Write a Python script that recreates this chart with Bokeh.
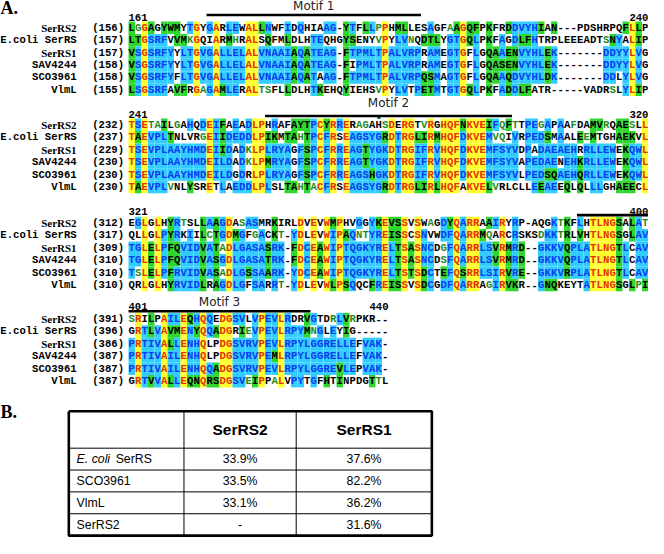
from collections import Counter
from bokeh.plotting import figure
from bokeh.models import ColumnDataSource, Range1d
from bokeh.core.properties import value
from bokeh.embed import file_html
from bokeh.resources import INLINE

# ---------------- data ----------------
names = ["SerRS2", "E.coli SerRS", "SerRS1", "SAV4244", "SCO3961", "VlmL"]
block_first = [161, 241, 321, 401]
block_last = [240, 320, 400, 440]
start_pos = [
    [156, 157, 157, 158, 158, 155],
    [232, 237, 229, 230, 230, 230],
    [312, 317, 309, 310, 310, 310],
    [391, 396, 386, 387, 387, 387],
]
block1 = [
    "LGGAGYWMYTGYGARLEWALLNWFIDQHIAAG-YTFLLPPHMLLESAGFAAGQFPKFRDDVYHIAN---PDSHRPQFLLP",
    "LTGSRFVVMKGQIARMHRALSQFMLDLHTEQHGYSENYVPYLVNQDTLYGTGQLPKFAGDLFHTRPLEEEADTSNYALIP",
    "VSGSRFYYLTGVGALLELALVNAAIAQATEAG-FTPMLTPALVRPRAMEGTGFLGQAAENVYHLEK-------DDYYLVG",
    "VSGSRFYYLTGVGALLELALVNAAIAQATEAG-FIPMLTPALVRPRAMEGTGFLGQASENVYHLEK-------DDYYLVG",
    "VSGSRFYFLTGVGALLELALVNAAIAQATAAG-FTPMLTPALVRPQSMAGTGFLGQAAQDVYHLDK-------DDLYLVG",
    "LSGSRFAVFRGAGAMLERALTSFLLDLHTKEHQYIEHSVPYLVTPETMTGTGQLPKFADDLFATR-----VADRSLYLIP",
]
block2 = [
    "TSETAILGAHQDEIFAEADLPHRAFAYTPCYRRERAGAHSDERGTVRGHQFNKVEIFQFTTPEGAPAAFDAMVRQAESLL",
    "TAEVPLTNLVRGEIIDEDDLPIKMTAHTPCFRSEAGSYGRDTRGLIRMHQFDKVEMVQIVRPEDSMAALEEMTGHAEKVL",
    "TSEVPLAAYHMDEIIDADKLPLRYAGFSPCFRREAGTYGKDTRGIFRVHQFDKVEMFSYVDPADAEAEHRRLLEWEKQWL",
    "TSEVPLAAYHMDEILDADKLPMRYAGFSPCFRREAGTYGKDTRGIFRVHQFDKVEMFSYVAPEDAENEHKRLLEWEKQWL",
    "TSEVPLAAYHMDEILDGDRLPLRYAGFSPCFRREAGSHGKDTRGIFRVHQFDKVEMFSYVLPEDSQAEHQRLLEWEKQWL",
    "TAEVPLVNLYSRETLAEDDLPLSLTAHTACFRSEAGSYGRDTRGLIRLHQFAKVELVRLCLLEEAEEQLQLLLGHAEECL",
]
block3 = [
    "EGLGLHYRTSLLAAGDASASMRKIRLDVEVWMPHVGGYKEVSSVSWAGDYQARRAAIRYRP-AQGKTKFLHTLNGSALAT",
    "QLLGLPYRKIILCTGDMGFGACKT-YDLEVWIPAQNTYREISSCSNVWDFQARRMQARCRSKSDKKTRLVHTLNGSGLAV",
    "TGLELPFQVIDVATADLGASASRK-FDCEAWIPTQGKYRELTSASNCDGFQARRLSVRMRD--GKKVQPLATLNGTLCAV",
    "TGLELPFQVIDVASGDLGASATRK-FDCEAWIPTQGKYRELTSASNCDSFQARRLSVRMRD--GKKVQPLATLNGTLCAV",
    "TSLELPFRVIDVASADLGSSAARK-YDCEAWIPTQGKYRELTSTSDCTEFQSRRLSIRVRE--GKKVRPLATLNGTLCAV",
    "QRLGLHYRVIDLRAGDLGFSARRT-YDLEVWLPSQQCFREISSVSDCGDFQARRAGIRVKR--GNQKEYTATLNGSGLPI",
]
block4 = [
    "SRILPAILEQHQQEDGSVLVPEVLRDRVGTDRLVRPKR--",
    "GRTLVAVMENYQQADGRIEVPEVLRPYMNGLEYIG-----",
    "PRTIVALLENHQLPDGSVRVPEVLRPYLGGRELLEFVAK-",
    "PRTIVAILENHQLPDGSVRVPEMLRPYLGGRELLEFVAK-",
    "PRTIVAILENHQQADGSVRVPEVLRPYLGGREVLEPVAK-",
    "GRTVVALLEQNQRSDGSVEIPPALVPYTGFHTINPDGTTL",
]
blocks = [block1, block2, block3, block4]
motif_labels = ["Motif 1", "Motif 2", "", "Motif 3"]
motif_cols = [(12, 45), (21, 59), (69, 80), (0, 28)]   # column spans of motif bars

table_cols = ["SerRS2", "SerRS1"]
table_rows = ["E. coli SerRS", "SCO3961", "VlmL", "SerRS2"]
ident_serrs2 = ["33.9%", "33.5%", "33.1%", "-"]
ident_serrs1 = ["37.6%", "82.2%", "36.2%", "31.6%"]

# ---------------- colouring rules (AlignX-like) ----------------
STRONG = ["STA", "NEQK", "NHQK", "NDEQ", "QHRK", "MILV", "MILF", "HY", "FYW"]
WEAK = ["CSA", "ATV", "SAG", "STNK", "STPA", "SGND", "SNDEQK", "NDEQHK", "NEQHRK", "FVLIM", "HFY"]
YEL, RED = "#ffff2e", "#e8300c"
CYAN, BLUE = "#33ccff", "#0a3cf0"
GRN, GTXT = "#2ed62e", "#1f8a1f"


def sim(a, b, groups):
    return any(a in g and b in g for g in groups)


def column_styles(res):
    letters = [r for r in res if r != "-"]
    if len(letters) == len(res) and len(set(letters)) == 1:
        return [(YEL, RED)] * len(res)
    cnt = Counter(letters).most_common()
    cons = None
    if cnt and cnt[0][1] >= 3 and (len(cnt) == 1 or cnt[1][1] < cnt[0][1]):
        cons = cnt[0][0]
    out = []
    if cons:
        for r in res:
            if r == "-":
                out.append((None, "black"))
            elif r == cons:
                out.append((CYAN, BLUE))
            elif sim(r, cons, STRONG):
                out.append((GRN, "black"))
            elif sim(r, cons, WEAK):
                out.append((None, GTXT))
            else:
                out.append((None, "black"))
    else:
        best, bn = None, 0
        for g in STRONG:
            n = sum(1 for r in letters if r in g)
            if n > bn:
                best, bn = g, n
        for r in res:
            if best and bn >= 3 and r in best:
                out.append((GRN, "black"))
            else:
                out.append((None, "black"))
    return out


# ---------------- geometry ----------------
X0, CW = 134.5, 6.66
ROW_H = 12.8
row0_y = [28, 128, 229, 328]
num_y = [17, 117, 217, 315]
bar_y = [15, 119, 221, 320]
label_y = [6, 106, None, 310]

p = figure(width=648, height=538, x_range=Range1d(0, 664), y_range=Range1d(554, 0),
           output_backend="svg", toolbar_location=None, tools="")
p.axis.visible = False
p.xgrid.visible = False
p.ygrid.visible = False
p.outline_line_color = None
p.min_border = 0
p.background_fill_color = "white"

rx, ry, rc = [], [], []
tx, ty, tt, tc = [], [], [], []
for b, blk in enumerate(blocks):
    ncol = len(blk[0])
    for c in range(ncol):
        res = [s[c] for s in blk]
        sty = column_styles(res)
        for i, r in enumerate(res):
            x = X0 + c * CW
            y = row0_y[b] + i * ROW_H
            bg, fg = sty[i]
            if bg:
                rx.append(x); ry.append(y); rc.append(bg)
            tx.append(x); ty.append(y); tt.append(r); tc.append(fg)

p.rect(x="x", y="y", width=CW, height=ROW_H, fill_color="c", line_color=None,
       source=ColumnDataSource(dict(x=rx, y=ry, c=rc)))
p.text(x="x", y="y", text="t", text_color="c", source=ColumnDataSource(dict(x=tx, y=ty, t=tt, c=tc)),
       text_align="center", text_baseline="middle", text_font=value("Liberation Mono"),
       text_font_style="bold", text_font_size="10.6px")

# names and start positions
for b in range(4):
    for i, nm in enumerate(names):
        y = row0_y[b] + i * ROW_H
        serif = nm in ("SerRS2", "SerRS1")
        p.text(x=[78], y=[y], text=[nm], text_align="right", text_baseline="middle",
               text_font=value("Liberation Serif" if serif else "Liberation Mono"),
               text_font_style="bold", text_font_size="11px" if serif else "10.6px", text_color="black")
        p.text(x=[94], y=[y], text=["(%d)" % start_pos[b][i]], text_align="left", text_baseline="middle",
               text_font=value("Liberation Mono"), text_font_style="bold", text_font_size="10.6px",
               text_color="black")
    ncol = len(blocks[b][0])
    p.text(x=[X0 - CW / 2], y=[num_y[b]], text=[str(block_first[b])], text_align="left",
           text_baseline="middle", text_font=value("Liberation Mono"), text_font_style="bold",
           text_font_size="10.6px", text_color="black")
    p.text(x=[X0 + (ncol - 1) * CW + CW / 2], y=[num_y[b]], text=[str(block_last[b])], text_align="right",
           text_baseline="middle", text_font=value("Liberation Mono"), text_font_style="bold",
           text_font_size="10.6px", text_color="black")
    c0, c1 = motif_cols[b]
    xa, xb = X0 + c0 * CW - CW / 2, X0 + (c1 - 1) * CW + CW / 2
    p.line(x=[xa, xb], y=[bar_y[b], bar_y[b]], line_color="black", line_width=2.6)
    if motif_labels[b]:
        p.text(x=[(xa + xb) / 2], y=[label_y[b]], text=[motif_labels[b]], text_align="center",
               text_baseline="middle", text_font=value("DejaVu Sans"), text_font_size="12px",
               text_color="#222222")

# asterisk above the catalytic histidine (block 2, column 39)
p.text(x=[X0 + 38 * CW], y=[bar_y[1] + 4], text=["*"], text_align="center", text_baseline="middle",
       text_font=value("Liberation Mono"), text_font_style="bold", text_font_size="11px", text_color="black")

# panel letters
for lab, y in (("A.", 8), ("B.", 424)):
    p.text(x=[0], y=[y], text=[lab], text_align="left", text_baseline="middle",
           text_font=value("Liberation Serif"), text_font_style="bold", text_font_size="18px",
           text_color="black")

# ---------------- table ----------------
TL, TR = 70, 442
VC = [188, 303]
TT, HB = 423, 461
RH = 22.5
TB = HB + RH * len(table_rows)
hl = [HB + RH * k for k in range(len(table_rows))]
for y in hl:
    p.line(x=[TL, TR], y=[y, y], line_color="black", line_width=1)
for x in VC:
    p.line(x=[x, x], y=[TT, TB], line_color="black", line_width=1)
p.line(x=[TL, TR, TR, TL, TL], y=[TT, TT, TB, TB, TT], line_color="black", line_width=2.6)

p.text(x=[(VC[0] + VC[1]) / 2, (VC[1] + TR) / 2], y=[(TT + HB) / 2] * 2, text=table_cols,
       text_align="center", text_baseline="middle", text_font=value("Liberation Sans"),
       text_font_style="bold", text_font_size="15.5px", text_color="black")
for k, lab in enumerate(table_rows):
    y = HB + RH * k + RH / 2
    if lab.startswith("E. coli"):
        p.text(x=[78], y=[y], text=["E. coli"], text_align="left", text_baseline="middle",
               text_font=value("Liberation Sans"), text_font_style="italic", text_font_size="12.3px",
               text_color="black")
        p.text(x=[118], y=[y], text=["SerRS"], text_align="left", text_baseline="middle",
               text_font=value("Liberation Sans"), text_font_size="12.3px", text_color="black")
    else:
        p.text(x=[78], y=[y], text=[lab], text_align="left", text_baseline="middle",
               text_font=value("Liberation Sans"), text_font_size="12.3px", text_color="black")
    p.text(x=[(VC[0] + VC[1]) / 2, (VC[1] + TR) / 2], y=[y, y], text=[ident_serrs2[k], ident_serrs1[k]],
           text_align="center", text_baseline="middle", text_font=value("Liberation Sans"),
           text_font_size="12.3px", text_color="black")

open("out.html", "w").write(file_html(p, INLINE))
